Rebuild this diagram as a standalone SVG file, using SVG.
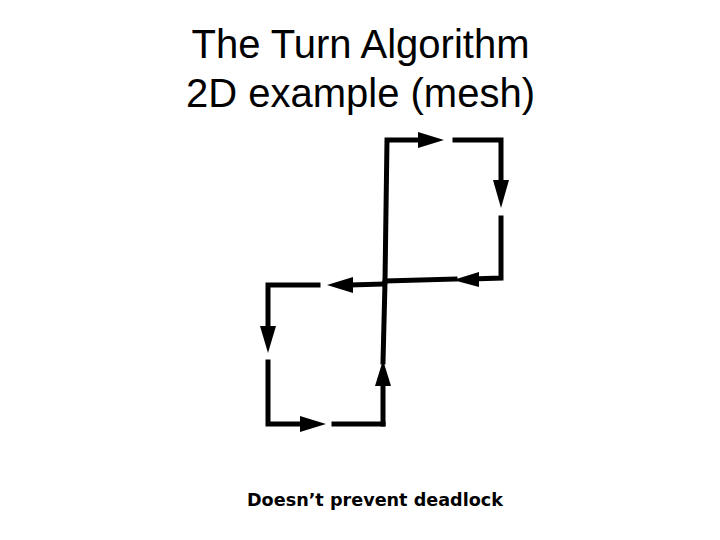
<svg xmlns="http://www.w3.org/2000/svg" width="720" height="540" viewBox="0 0 720 540">
<style>
.t{font-family:"Liberation Sans",Arial,sans-serif;font-size:40px;fill:#000;text-anchor:middle}
.n{font-family:"DejaVu Sans",Verdana,sans-serif;font-weight:bold;font-size:17px;fill:#000;text-anchor:middle}
.e{stroke:#000;stroke-width:5;fill:none;stroke-linecap:square}
.h{fill:#000}
</style>
<rect width="720" height="540" fill="#fff"/>
<g id="title">
<text class="t" x="360.5" y="58">The Turn Algorithm</text>
<text class="t" x="360.5" y="107">2D example (mesh)</text>
</g>
<g id="connectors">
<!-- top square -->
<polyline class="e" points="420,140 387,140 385,281"/>
<polyline class="e" points="455,140 501,140 501,185"/>
<polyline class="e" points="501,218 501,278 473,279"/>
<line class="e" x1="455" y1="279" x2="387" y2="281"/>
<!-- bottom square -->
<line class="e" x1="385" y1="282" x2="383" y2="362"/>
<line class="e" x1="383" y1="385" x2="383" y2="424"/>
<line class="e" x1="383" y1="284" x2="352" y2="285"/>
<polyline class="e" points="318,285 268,285 268,326"/>
<polyline class="e" points="268,362 268,424 300,424"/>
<line class="e" x1="334" y1="424" x2="383" y2="424"/>
<!-- arrowheads -->
<polygon class="h" points="418,132 444,140 418,148"/>
<polygon class="h" points="493,180 509,180 501,208"/>
<polygon class="h" points="479,272 479,287 453,280"/>
<polygon class="h" points="353,277 353,293 327,285"/>
<polygon class="h" points="260,326 276,326 268,353"/>
<polygon class="h" points="300,416 300,432 326,424"/>
<polygon class="h" points="375,386 391,386 383,360"/>
</g>
<g id="note">
<text class="n" x="375" y="506" textLength="256" lengthAdjust="spacingAndGlyphs">Doesn’t prevent deadlock</text>
</g>
</svg>
